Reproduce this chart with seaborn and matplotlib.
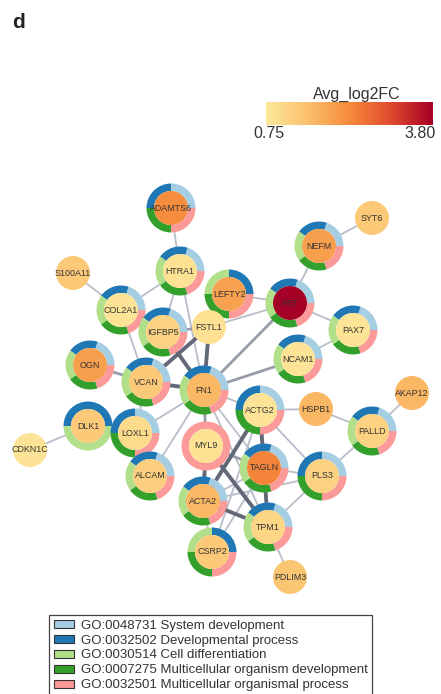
import numpy as np
import pandas as pd
import matplotlib
matplotlib.use("Agg")
import matplotlib.pyplot as plt
from matplotlib.colors import LinearSegmentedColormap, Normalize
from matplotlib.patches import Circle, Patch
import seaborn as sns

# ---- node data -------------------------------------------------------------
genes = ["ADAMTS6", "HTRA1", "S100A11", "SYT6", "NEFM", "LEFTY2", "FST",
         "COL2A1", "IGFBP5", "FSTL1", "PAX7", "OGN", "VCAN", "FN1", "NCAM1",
         "ACTG2", "HSPB1", "AKAP12", "PALLD", "DLK1", "LOXL1", "CDKN1C",
         "MYL9", "TAGLN", "PLS3", "ALCAM", "ACTA2", "TPM1", "CSRP2", "PDLIM3"]
avg_log2fc = [2.25, 0.88, 1.35, 1.35, 2.0, 1.95, 3.80,
              0.85, 1.18, 0.90, 0.85, 2.0, 1.35, 1.65, 0.85,
              0.85, 1.65, 1.65, 1.18, 1.35, 1.0, 0.85,
              0.88, 2.35, 1.18, 1.25, 1.65, 1.12, 1.35, 1.40]

# GO term membership of each gene
go_terms = ["GO:0048731 System development",
            "GO:0032502 Developmental process",
            "GO:0030514 Cell differentiation",
            "GO:0007275 Multicellular organism development",
            "GO:0032501 Multicellular organismal process"]
system_development = ["ADAMTS6", "HTRA1", "NEFM", "FST", "COL2A1", "IGFBP5",
                      "PAX7", "OGN", "VCAN", "FN1", "NCAM1", "ACTG2", "PALLD",
                      "LOXL1", "TAGLN", "PLS3", "ALCAM", "ACTA2", "TPM1"]
developmental_process = system_development + ["LEFTY2", "CSRP2", "DLK1"]
cell_differentiation = ["HTRA1", "NEFM", "FST", "COL2A1", "IGFBP5", "PAX7",
                        "OGN", "VCAN", "FN1", "NCAM1", "PALLD", "TAGLN",
                        "ALCAM", "ACTA2", "TPM1", "LEFTY2", "CSRP2", "DLK1"]
multicellular_development = system_development + ["LEFTY2", "CSRP2"]
multicellular_process = multicellular_development + ["MYL9"]
go_members = [system_development, developmental_process, cell_differentiation,
              multicellular_development, multicellular_process]

# ---- interactions ----------------------------------------------------------
edge_source = ["ADAMTS6", "HTRA1", "HTRA1", "HTRA1", "S100A11", "COL2A1",
               "SYT6", "NEFM", "LEFTY2", "FST", "FST", "FST", "PAX7", "NCAM1",
               "IGFBP5", "IGFBP5", "FSTL1", "FSTL1", "OGN", "VCAN", "VCAN",
               "FN1", "FN1", "FN1", "FN1", "FN1", "ACTG2", "ACTG2", "ACTG2",
               "ACTG2", "ACTG2", "HSPB1", "PALLD", "PALLD", "DLK1", "MYL9",
               "MYL9", "MYL9", "TAGLN", "TAGLN", "TAGLN", "TAGLN", "ACTA2",
               "ACTA2", "TPM1", "TPM1", "ACTA2", "FN1"]
edge_target = ["HTRA1", "COL2A1", "IGFBP5", "FN1", "COL2A1", "VCAN",
               "NEFM", "FST", "FST", "FSTL1", "PAX7", "FN1", "NCAM1", "FN1",
               "FN1", "FSTL1", "FN1", "VCAN", "VCAN", "FN1", "LOXL1",
               "LOXL1", "ALCAM", "MYL9", "ACTG2", "TAGLN", "HSPB1", "TAGLN",
               "ACTA2", "CSRP2", "PLS3", "PALLD", "AKAP12", "PLS3", "CDKN1C",
               "ACTA2", "TPM1", "TAGLN", "ACTA2", "TPM1", "PLS3", "CSRP2",
               "TPM1", "PLS3", "PLS3", "PDLIM3", "CSRP2", "TPM1"]
edge_score = [1, 1, 1, 1, 1, 1,
              1, 1, 1, 1, 1, 2, 1, 2,
              3, 2, 3, 3, 2, 3, 1,
              1, 1, 2, 1, 1, 1, 3,
              3, 1, 1, 1, 1, 1, 1,
              3, 3, 2, 1, 3, 1, 1,
              3, 1, 1, 1, 1, 1]

# ---- network layout (pixel grid, y measured downward) ----------------------
W, H = 441, 694
layout = {
    "ADAMTS6": (171, 208), "HTRA1": (180, 271), "S100A11": (73, 273),
    "SYT6": (372, 218), "NEFM": (319, 246), "LEFTY2": (229, 294),
    "FST": (290, 303), "COL2A1": (121, 310), "IGFBP5": (163, 332),
    "FSTL1": (209, 327), "PAX7": (353, 330), "OGN": (90, 365),
    "VCAN": (146, 382), "FN1": (204, 390), "NCAM1": (298, 359),
    "ACTG2": (260, 410), "HSPB1": (316, 409), "AKAP12": (412, 393),
    "PALLD": (372, 431), "DLK1": (88, 426), "LOXL1": (135, 433),
    "CDKN1C": (30, 450), "MYL9": (206, 446), "TAGLN": (264, 468),
    "PLS3": (322, 476), "ALCAM": (150, 476), "ACTA2": (203, 501),
    "TPM1": (268, 527), "CSRP2": (212, 552), "PDLIM3": (290, 577),
}
pos = {g: (x, H - y) for g, (x, y) in layout.items()}

R_OUT, RING_W, R_IN = 24.5, 7.5, 17.0
term_colors = sns.color_palette("Paired", 5)
cmap = LinearSegmentedColormap.from_list(
    "fc", ["#FDE89B", "#FBC06D", "#F68B3B", "#E04A2E", "#A50026"])
vmin, vmax = 0.75, 3.80
norm = Normalize(vmin, vmax)

sns.set_theme(style="white")
plt.rcParams["font.family"] = ["Liberation Sans", "DejaVu Sans"]

fig = plt.figure(figsize=(W / 100, H / 100), dpi=100)
ax = fig.add_axes([0, 0, 1, 1])

# edges (kept underneath the nodes)
rows = []
for i, (a, b, s) in enumerate(zip(edge_source, edge_target, edge_score)):
    for g in (a, b):
        rows.append({"edge": i, "x": pos[g][0], "y": pos[g][1], "score": s})
edges = pd.DataFrame(rows)
sns.lineplot(data=edges, x="x", y="y", units="edge", estimator=None,
             sort=False, hue="score", size="score",
             palette={1: "#b9bdc9", 2: "#979cab", 3: "#626878"},
             sizes={1: 1.3, 2: 2.0, 3: 2.8}, legend=False, ax=ax)
for ln in ax.lines:
    ln.set_zorder(1)

# nodes
fc_of = dict(zip(genes, avg_log2fc))
for g in genes:
    x, y = pos[g]
    flags = [g in m for m in go_members]
    if any(flags):
        cols = [c for c, f in zip(term_colors, flags) if f]
        wedges, _ = ax.pie([1] * len(cols), colors=cols, radius=R_OUT,
                           center=(x, y), startangle=0, counterclock=True,
                           frame=True, wedgeprops=dict(width=RING_W,
                                                       linewidth=0))
        for w in wedges:
            w.set_zorder(3)
    ax.add_patch(Circle((x, y), R_IN, facecolor=cmap(norm(fc_of[g])),
                        edgecolor="none", zorder=4))
    ax.text(x, y, g, ha="center", va="center", fontsize=6.4,
            color="#333333", zorder=5)

ax.set_xlim(0, W)
ax.set_ylim(0, H)
ax.set_aspect("equal")
ax.axis("off")

# panel letter
fig.text(12 / W, 1 - 22 / H, "d", fontsize=15, fontweight="bold",
         ha="left", va="center", color="#222222")

# colour key
cax = fig.add_axes([266 / W, 1 - 125 / H, 167 / W, 23 / H])
grad = np.linspace(vmin, vmax, 256)[None, :]
cax.imshow(grad, aspect="auto", cmap=cmap, norm=norm,
           extent=[vmin, vmax, 0, 1])
cax.axis("off")
fig.text(357 / W, 1 - 94 / H, "Avg_log2FC", fontsize=11.5, ha="center",
         va="center", color="#333333")
fig.text(253 / W, 1 - 134 / H, f"{vmin:.2f}", fontsize=11.5, ha="left",
         va="center", color="#333333")
fig.text(436 / W, 1 - 134 / H, f"{vmax:.2f}", fontsize=11.5, ha="right",
         va="center", color="#333333")

# GO legend
handles = [Patch(facecolor=c, edgecolor="#333333", linewidth=0.8, label=t)
           for c, t in zip(term_colors, go_terms)]
leg = fig.legend(handles=handles, loc="upper left",
                 bbox_to_anchor=(49 / W, 1 - 615 / H), fontsize=9.5,
                 frameon=True, fancybox=False, framealpha=1,
                 edgecolor="#444444", handlelength=1.55, handleheight=0.55,
                 handletextpad=0.5, labelspacing=0.22, borderpad=0.35,
                 borderaxespad=0)
leg.get_frame().set_linewidth(0.9)
for t in leg.get_texts():
    t.set_color("#333333")

fig.savefig("out.png", dpi=100)
